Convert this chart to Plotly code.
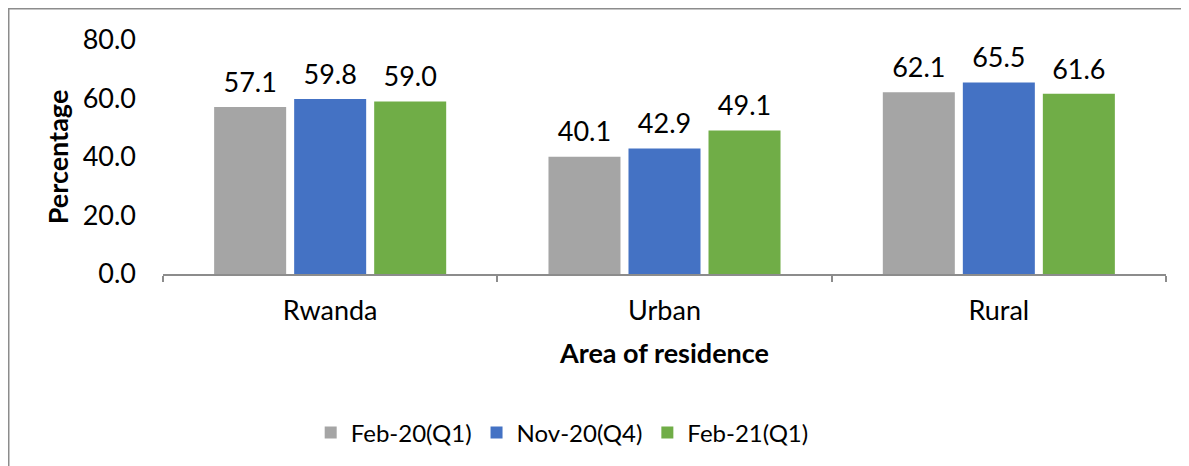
import plotly.graph_objects as go

categories = ["Rwanda", "Urban", "Rural"]
series_names = ["Feb-20(Q1)", "Nov-20(Q4)", "Feb-21(Q1)"]
feb20 = [57.1, 40.1, 62.1]
nov20 = [59.8, 42.9, 65.5]
feb21 = [59.0, 49.1, 61.6]
colors = ["#A5A5A5", "#4472C4", "#70AD47"]
y_ticks = [0, 20, 40, 60, 80]
y_tick_labels = ["0.0", "20.0", "40.0", "60.0", "80.0"]

FONT = "Lato"
FS = 27

fig = go.Figure()
for name, vals, col in zip(series_names, [feb20, nov20, feb21], colors):
    fig.add_trace(go.Bar(x=categories, y=vals, name=name, marker=dict(color=col, line=dict(width=0))))
for name, vals in zip(series_names, [feb20, nov20, feb21]):
    fig.add_trace(go.Scatter(
        x=categories, y=vals, mode="markers+text", text=[f"{v:.1f}" for v in vals],
        textposition="top center", textfont=dict(family=FONT, size=FS, color="#000000"),
        marker=dict(size=12, opacity=0), showlegend=False, hoverinfo="skip", cliponaxis=False,
    ))

# page has an 8px body margin, so the figure is sized/offset to compensate
fig.update_layout(
    width=1181, height=458,
    margin=dict(l=155, r=23, t=32, b=192, autoexpand=False),
    paper_bgcolor="white", plot_bgcolor="white",
    barmode="group", bargap=0.282, bargroupgap=0.1,
    scattermode="group", scattergap=0.282,
    font=dict(family=FONT, size=FS, color="#000000"),
    showlegend=True,
    legend=dict(orientation="h", x=0.398, xanchor="center", y=-0.679, yanchor="middle",
                font=dict(family=FONT, size=24), itemwidth=30, traceorder="normal"),
    shapes=[dict(type="rect", xref="paper", yref="paper", x0=-0.1538, x1=1.2, y0=-1.2, y1=1.1335,
                 line=dict(color="#8C8C8C", width=1.5), fillcolor="rgba(0,0,0,0)", layer="below")],
)
fig.update_xaxes(
    showline=True, linecolor="#8C8C8C", linewidth=1.5, ticks="outside", tickson="boundaries",
    ticklen=6, tickcolor="#8C8C8C", tickwidth=1.5, showgrid=False, ticklabelstandoff=12,
    automargin=False,
    title=dict(text="<b>Area of residence</b>", font=dict(family=FONT, size=FS), standoff=19),
)
fig.update_yaxes(
    range=[0, 80], tickvals=y_ticks, ticktext=y_tick_labels, showline=False, showgrid=False,
    zeroline=False, ticks="", ticklabelstandoff=26, automargin=False,
    title=dict(text="<b>Percentage</b>", font=dict(family=FONT, size=FS), standoff=6),
)

fig.write_html("out.html")
